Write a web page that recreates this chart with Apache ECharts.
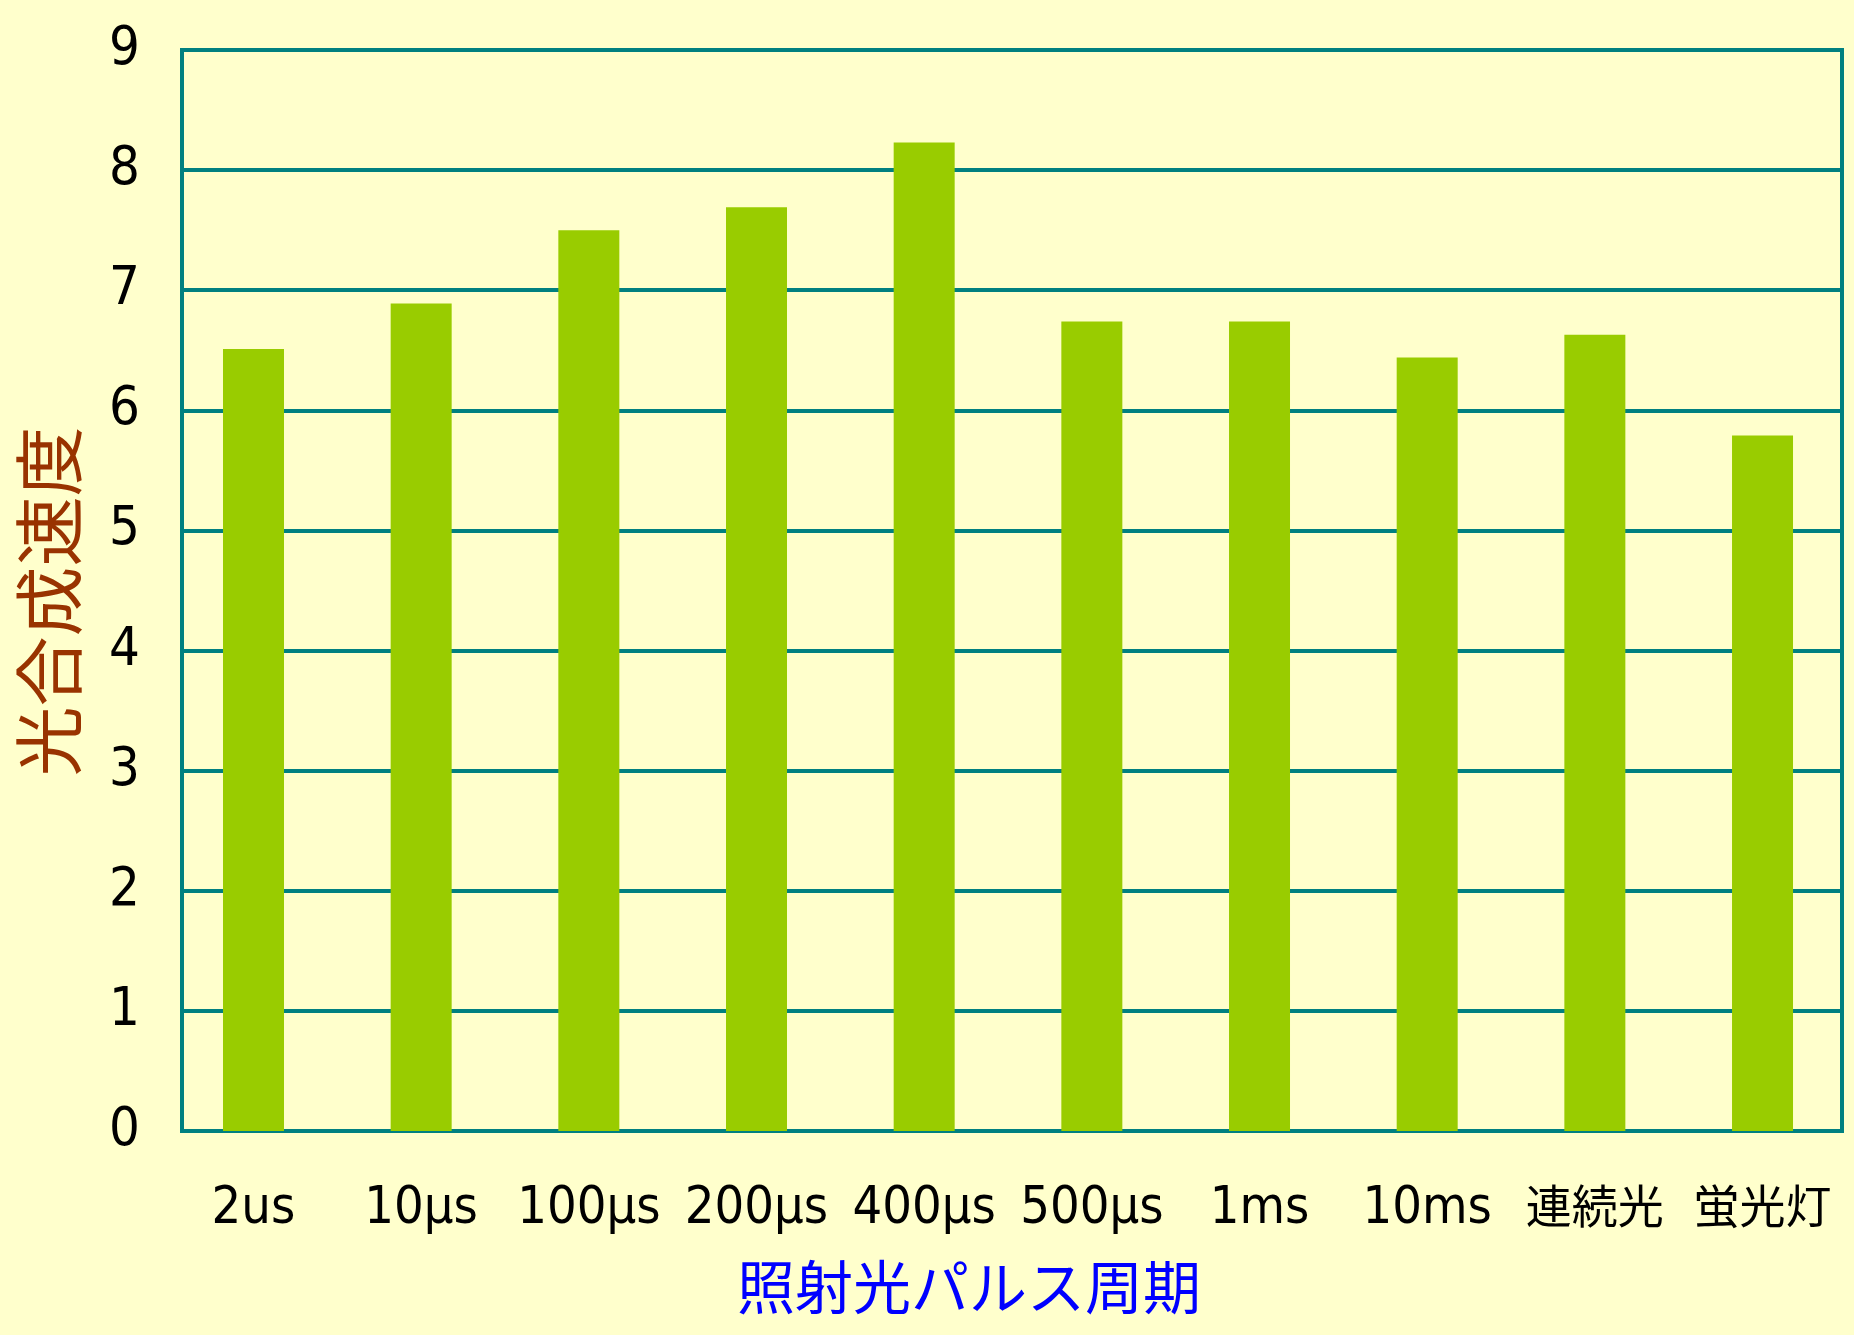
<!DOCTYPE html>
<html>
<head>
<meta charset="utf-8">
<script src="https://cdn.jsdelivr.net/npm/echarts@6/dist/echarts.min.js"></script>
<style>
html,body{margin:0;padding:0;background:#FFFFCC;}
#chart{width:1854px;height:1335px;}
</style>
</head>
<body>
<div id="chart"></div>
<script>
// ---- data ----
const categories = ['2us', '10µs', '100µs', '200µs', '400µs', '500µs', '1ms', '10ms', '連続光', '蛍光灯'];
const values = [6.51, 6.89, 7.50, 7.69, 8.23, 6.74, 6.74, 6.44, 6.63, 5.79];
const yTicks = [0, 1, 2, 3, 4, 5, 6, 7, 8, 9];
const yTitle = '光合成速度';
const xTitle = '照射光パルス周期';

const teal = '#008080';
const latin = "'Liberation Sans Narrow', 'DejaVu Sans Condensed', 'Liberation Sans', sans-serif";
const jp = "'Noto Sans CJK JP', sans-serif";

const chart = echarts.init(document.getElementById('chart'), null, {renderer: 'canvas'});
chart.setOption({
  backgroundColor: '#FFFFCC',
  animation: false,
  grid: {
    left: 182, right: 12, top: 50, bottom: 204,
    show: true, borderColor: teal, borderWidth: 4, backgroundColor: 'transparent'
  },
  xAxis: {
    type: 'value',
    min: -0.4264,
    max: 9.474,
    axisLine: {show: true, onZero: false, lineStyle: {color: teal, width: 4}},
    axisTick: {show: false},
    splitLine: {show: false},
    axisLabel: {
      customValues: categories.map((c, i) => i),
      margin: 52,
      color: '#000',
      fontFamily: latin,
      fontSize: 52,
      formatter: v => {
        const s = categories[Math.round(v)];
        return /[\u3000-\u9fff]/.test(s) ? '{j|' + s + '}' : s;
      },
      rich: {
        j: {fontFamily: jp, fontSize: 46, color: '#000'}
      }
    },
    name: xTitle,
    nameLocation: 'middle',
    nameGap: 127,
    nameTextStyle: {color: '#0000FF', fontFamily: jp, fontSize: 58, padding: [0, 86, 0, 0]}
  },
  yAxis: {
    type: 'value',
    min: 0,
    max: 9,
    interval: 1,
    data: yTicks,
    axisLine: {show: true, onZero: false, lineStyle: {color: teal, width: 4}},
    axisTick: {show: false},
    splitLine: {show: true, lineStyle: {color: teal, width: 4}},
    axisLabel: {
      margin: 42,
      color: '#000',
      fontFamily: latin,
      fontSize: 54,
      padding: [0, 0, 40, 0],
      formatter: v => String(v)
    },
    name: yTitle,
    nameLocation: 'middle',
    nameRotate: 90,
    nameGap: 98,
    nameTextStyle: {color: '#993300', fontFamily: jp, fontSize: 70, padding: [0, 22, 0, 0]}
  },
  series: [{
    type: 'bar',
    barWidth: 61,
    itemStyle: {color: '#99CC00'},
    data: categories.map((c, i) => [i, values[i]])
  }]
});
</script>
</body>
</html>
